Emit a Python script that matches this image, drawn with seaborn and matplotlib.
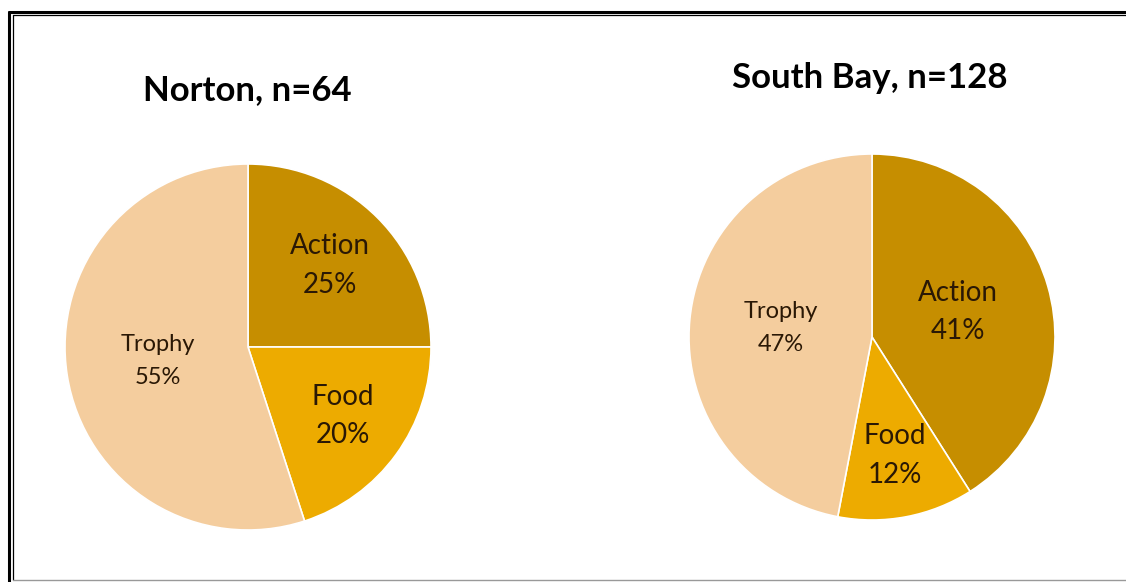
import matplotlib
matplotlib.use("Agg")
import matplotlib.pyplot as plt
from matplotlib.lines import Line2D
import numpy as np
import seaborn as sns

categories = ["Action", "Food", "Trophy"]
norton_pct = [25, 20, 55]
southbay_pct = [41, 12, 47]
titles = ["Norton, n=64", "South Bay, n=128"]

sns.set_theme(style="white")
plt.rcParams['font.family'] = ['Lato', 'DejaVu Sans']

colors = sns.color_palette(["#C68E00", "#EDAB00", "#F4CD9E"])
text_color = "#2a1805"

W, H = 1126, 582
fig = plt.figure(figsize=(W / 100, H / 100), dpi=100)
fig.patch.set_facecolor("white")


def pie_panel(cx, cy, r, values, title, title_xy, label_r, label_fs, label_ls):
    ax = fig.add_axes([(cx - r) / W, (H - cy - r) / H, 2 * r / W, 2 * r / H])
    wedges, _ = ax.pie(values, colors=colors, startangle=90, counterclock=False,
                       wedgeprops=dict(edgecolor="white", linewidth=1.2))
    ax.set_xlim(-1, 1)
    ax.set_ylim(-1, 1)
    ax.set_aspect("equal")
    ax.axis("off")
    for w, cat, v, d, fs, ls in zip(wedges, categories, values, label_r, label_fs, label_ls):
        ang = np.deg2rad((w.theta1 + w.theta2) / 2)
        x, y = d * np.cos(ang), d * np.sin(ang)
        ax.text(x, y, f"{cat}\n{v}%", ha="center", va="center", fontsize=fs,
                color=text_color, linespacing=ls)
    fig.text(title_xy[0] / W, 1 - title_xy[1] / H, title, ha="center", va="center",
             fontsize=25, fontweight="bold", color="black")


pie_panel(248, 347, 183, norton_pct, titles[0], (247, 90),
          [0.63, 0.64, 0.5], [20, 20, 17], [1.6, 1.55, 1.7])
pie_panel(872, 337, 183, southbay_pct, titles[1], (870, 78),
          [0.49, 0.66, 0.5], [20, 20, 17], [1.6, 1.6, 1.7])

# double frame around the picture
def fline(x0, y0, x1, y1, lw, c):
    fig.add_artist(Line2D([x0 / W, x1 / W], [1 - y0 / H, 1 - y1 / H],
                          transform=fig.transFigure, lw=lw, color=c))

fline(9, 11.5, W, 11.5, 2.2, "black")
fline(9, 11.5, 9, 582, 2.2, "black")
fline(12.5, 15, W, 15, 0.9, "black")
fline(12.5, 15, 12.5, 580, 0.9, "black")
fline(12.5, 580, W, 580, 1.0, "#999999")

fig.savefig("out.png", dpi=100)
